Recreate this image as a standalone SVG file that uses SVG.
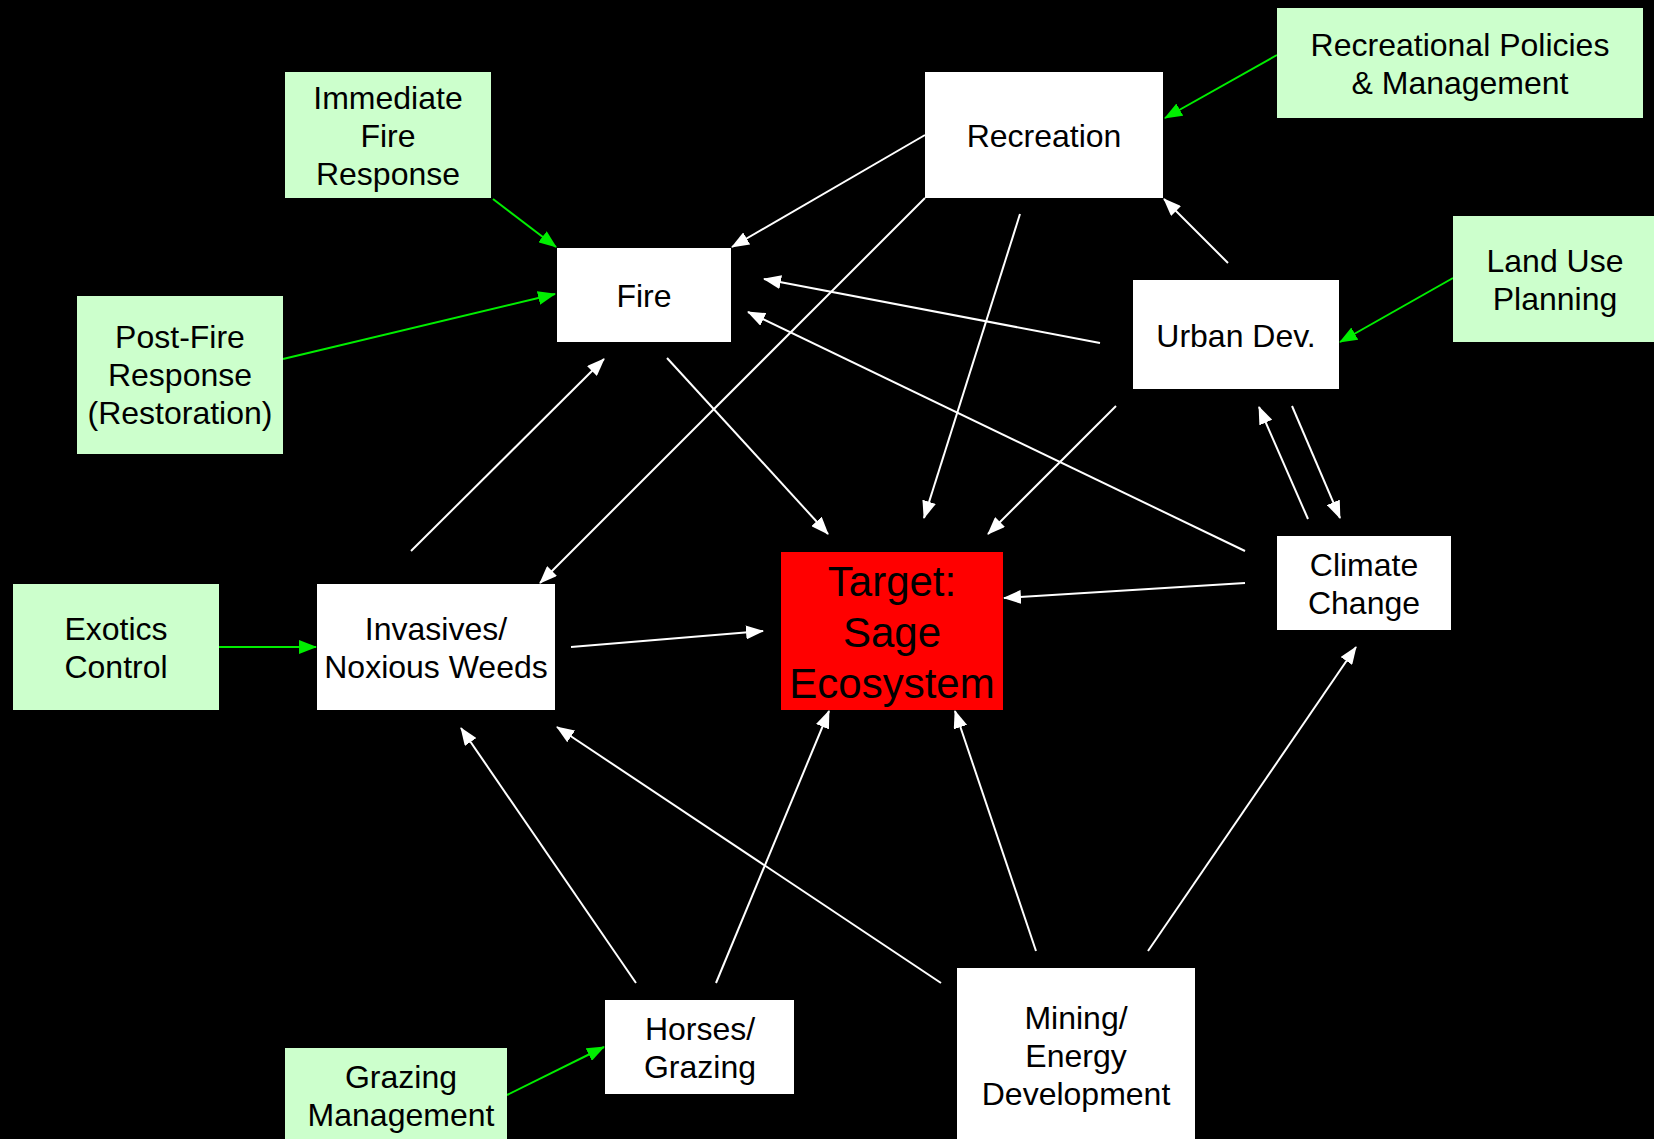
<svg xmlns="http://www.w3.org/2000/svg" width="1654" height="1139" viewBox="0 0 1654 1139">
<defs>
<style>
.w{fill:#FFFFFF}
.g{fill:#CCFFCC}
.t{font-family:"Liberation Sans",Arial,sans-serif;font-size:32px;fill:#000;text-anchor:middle}
.big{font-size:42px}
.cw{stroke:#FFFFFF;stroke-width:2;fill:none;marker-end:url(#aw)}
.cg{stroke:#00EE00;stroke-width:2;fill:none;marker-end:url(#ag)}
</style>
<marker id="aw" markerUnits="userSpaceOnUse" markerWidth="18" markerHeight="14" refX="17" refY="7" orient="auto"><path d="M0,0 L18,7 L0,14 z" fill="#FFFFFF"/></marker>
<marker id="ag" markerUnits="userSpaceOnUse" markerWidth="18" markerHeight="14" refX="17" refY="7" orient="auto"><path d="M0,0 L18,7 L0,14 z" fill="#00EE00"/></marker>
</defs>
<rect width="1654" height="1139" fill="#000"/>
<g id="connectors">
<line class="cg" x1="493" y1="199" x2="556" y2="247"/>
<line class="cg" x1="283" y1="359" x2="555" y2="294"/>
<line class="cg" x1="1277" y1="55" x2="1165" y2="118"/>
<line class="cg" x1="1453" y1="278" x2="1340" y2="342"/>
<line class="cg" x1="219" y1="647" x2="316" y2="647"/>
<line class="cg" x1="507" y1="1095" x2="604" y2="1047"/>
<line class="cw" x1="925" y1="135" x2="732" y2="247"/>
<line class="cw" x1="1100" y1="343" x2="764" y2="279"/>
<line class="cw" x1="1245" y1="551" x2="748" y2="312"/>
<line class="cw" x1="411" y1="551" x2="604" y2="359"/>
<line class="cw" x1="667" y1="358" x2="828" y2="534"/>
<line class="cw" x1="925" y1="198" x2="540" y2="583"/>
<line class="cw" x1="1020" y1="214" x2="924" y2="518"/>
<line class="cw" x1="1228" y1="263" x2="1164" y2="199"/>
<line class="cw" x1="1116" y1="406" x2="988" y2="534"/>
<line class="cw" x1="1308" y1="519" x2="1259" y2="407"/>
<line class="cw" x1="1292" y1="406" x2="1340" y2="518"/>
<line class="cw" x1="1245" y1="583" x2="1004" y2="598"/>
<line class="cw" x1="571" y1="647" x2="763" y2="631"/>
<line class="cw" x1="636" y1="983" x2="461" y2="728"/>
<line class="cw" x1="716" y1="983" x2="829" y2="711"/>
<line class="cw" x1="941" y1="983" x2="557" y2="727"/>
<line class="cw" x1="1036" y1="951" x2="955" y2="711"/>
<line class="cw" x1="1148" y1="951" x2="1356" y2="647"/>
</g>
<g id="immediate-fire-response"><rect class="g" x="285" y="72" width="206" height="126"/><text class="t" x="388" y="109">Immediate</text><text class="t" x="388" y="147">Fire</text><text class="t" x="388" y="185">Response</text></g>
<g id="post-fire-response"><rect class="g" x="77" y="296" width="206" height="158"/><text class="t" x="180" y="348">Post-Fire</text><text class="t" x="180" y="386">Response</text><text class="t" x="180" y="424">(Restoration)</text></g>
<g id="fire"><rect class="w" x="557" y="248" width="174" height="94"/><text class="t" x="644" y="307">Fire</text></g>
<g id="recreation"><rect class="w" x="925" y="72" width="238" height="126"/><text class="t" x="1044" y="147">Recreation</text></g>
<g id="recreational-policies"><rect class="g" x="1277" y="8" width="366" height="110"/><text class="t" x="1460" y="56">Recreational Policies</text><text class="t" x="1460" y="94">&amp; Management</text></g>
<g id="urban-dev"><rect class="w" x="1133" y="280" width="206" height="109"/><text class="t" x="1236" y="347">Urban Dev.</text></g>
<g id="land-use-planning"><rect class="g" x="1453" y="216" width="201" height="126"/><text class="t" x="1555" y="272">Land Use</text><text class="t" x="1555" y="310">Planning</text></g>
<g id="climate-change"><rect class="w" x="1277" y="536" width="174" height="94"/><text class="t" x="1364" y="576">Climate</text><text class="t" x="1364" y="614">Change</text></g>
<g id="exotics-control"><rect class="g" x="13" y="584" width="206" height="126"/><text class="t" x="116" y="640">Exotics</text><text class="t" x="116" y="678">Control</text></g>
<g id="invasives"><rect class="w" x="317" y="584" width="238" height="126"/><text class="t" x="436" y="640">Invasives/</text><text class="t" x="436" y="678">Noxious Weeds</text></g>
<g id="target"><rect x="781" y="552" width="222" height="158" fill="#FF0000"/><text class="t big" x="892" y="596">Target:</text><text class="t big" x="892" y="647">Sage</text><text class="t big" x="892" y="698">Ecosystem</text></g>
<g id="horses-grazing"><rect class="w" x="605" y="1000" width="189" height="94"/><text class="t" x="700" y="1040">Horses/</text><text class="t" x="700" y="1078">Grazing</text></g>
<g id="grazing-management"><rect class="g" x="285" y="1048" width="222" height="91"/><text class="t" x="401" y="1088">Grazing</text><text class="t" x="401" y="1126">Management</text></g>
<g id="mining-energy"><rect class="w" x="957" y="968" width="238" height="171"/><text class="t" x="1076" y="1029">Mining/</text><text class="t" x="1076" y="1067">Energy</text><text class="t" x="1076" y="1105">Development</text></g>
</svg>
